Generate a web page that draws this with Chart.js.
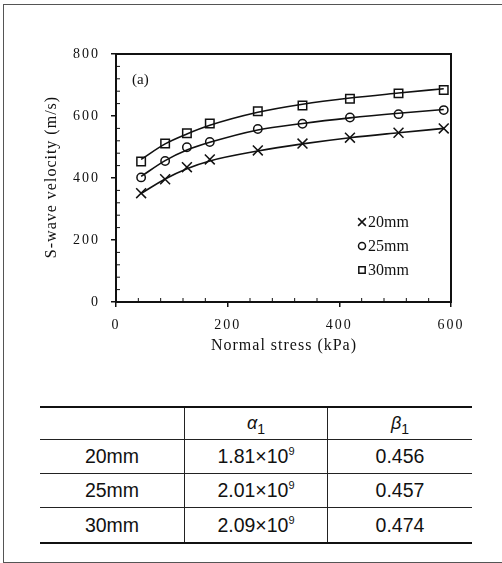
<!DOCTYPE html>
<html lang="en">
<head>
<meta charset="UTF-8">
<title>S-wave velocity vs normal stress</title>
<script src="https://cdn.jsdelivr.net/npm/chart.js@4.4.1/dist/chart.umd.min.js"></script>
<style>
    body {
        margin: 0;
        background: #fff;
        width: 502px;
        height: 563px;
        overflow: hidden;
        position: relative;
    }
    .frame {
        position: absolute;
        left: 3px;
        top: 4px;
        width: 520px;
        height: 557px;
        border: 1px solid #555;
    }
    .chart-box {
        position: absolute;
        left: 0;
        top: 0;
        width: 502px;
        height: 380px;
    }
    table {
        position: absolute;
        left: 40px;
        top: 406px;
        width: 432px;
        border-collapse: collapse;
        font-family: "Liberation Sans", Arial, sans-serif;
        font-size: 19.5px;
        color: #111;
        text-align: center;
    }
    table td {
        border: 1px solid #222;
        padding: 0;
    }
    table td:first-child { border-left: none; }
    table td:last-child { border-right: none; }
    table tr:first-child td { border-top: 2px solid #111; height: 31px; }
    table tr:last-child td { border-bottom: 2px solid #111; height: 34px; }
    table tr.r td { height: 33px; }
    .g { font-style: italic; font-size: 18px; color: #111; }
    .g sub { font-style: normal; font-size: 14px; color: #111; }
    sup { font-size: 11px; vertical-align: 8px; }
</style>
</head>
<body>
<div class="frame"></div>
<div class="chart-box"><canvas id="chart"></canvas></div>
<table>
    <tr><td style="width:144px"></td><td style="width:142px"><span class="g">α<sub>1</sub></span></td><td><span class="g">β<sub>1</sub></span></td></tr>
    <tr class="r"><td>20mm</td><td>1.81×10<sup>9</sup></td><td>0.456</td></tr>
    <tr class="r"><td>25mm</td><td>2.01×10<sup>9</sup></td><td>0.457</td></tr>
    <tr><td>30mm</td><td>2.09×10<sup>9</sup></td><td>0.474</td></tr>
</table>

<script>
// normal stress (kPa), shared by all three sizes
const stress = [45, 88, 127, 168, 254, 334, 419, 506, 587];

// measured S-wave velocity (m/s)
const vs20 = [351, 396, 435, 460, 489, 511, 530, 546, 560];
const vs25 = [402, 455, 499, 516, 558, 575, 595, 606, 619];
const vs30 = [453, 511, 544, 576, 615, 634, 656, 673, 684];

// fitted curves
const fit20 = [350, 397, 430, 455, 487, 510, 530, 546, 560];
const fit25 = [405, 456, 490, 515, 555, 576, 594, 609, 621];
const fit30 = [460, 510, 542, 570, 612, 638, 658, 674, 688];

const sizeLabels = ['20mm', '25mm', '30mm'];
const xTicks = [0, 200, 400, 600];
const yTicks = [0, 200, 400, 600, 800];

const serif = '"Liberation Serif", "Times New Roman", serif';

function pts(ys) {
    return stress.map((x, i) => ({ x: x, y: ys[i] }));
}

function fitSet(ys) {
    return {
        type: 'line',
        data: pts(ys),
        borderColor: '#111',
        borderWidth: 1.6,
        pointRadius: 0,
        cubicInterpolationMode: 'monotone',
        fill: false
    };
}

function markSet(ys, style, r) {
    return {
        type: 'scatter',
        data: pts(ys),
        pointStyle: style,
        pointRadius: r,
        borderColor: '#111',
        backgroundColor: '#fff',
        pointBorderWidth: 1.5
    };
}

// frame, minor ticks, axis titles, (a) label and legend
const decor = {
    id: 'decor',
    beforeDraw(chart) {
        chart.ctx.letterSpacing = '2px';
    },
    afterDraw(chart) {
        const ctx = chart.ctx;
        const a = chart.chartArea;
        const xs = chart.scales.x, ys = chart.scales.y;
        ctx.save();
        ctx.letterSpacing = '0px';
        ctx.strokeStyle = '#111';
        ctx.lineWidth = 2;
        ctx.strokeRect(a.left, a.top, a.right - a.left, a.bottom - a.top);

        ctx.lineWidth = 1;
        ctx.beginPath();
        for (let v = 40; v < 600; v += 40) {
            if (v % 200 === 0) continue;
            const px = xs.getPixelForValue(v);
            ctx.moveTo(px, a.bottom);
            ctx.lineTo(px, a.bottom - 4);
        }
        for (let v = 40; v < 800; v += 40) {
            if (v % 200 === 0) continue;
            const py = ys.getPixelForValue(v);
            ctx.moveTo(a.left, py);
            ctx.lineTo(a.left + 4, py);
        }
        ctx.stroke();

        ctx.fillStyle = '#111';
        ctx.textBaseline = 'middle';
        ctx.textAlign = 'center';
        ctx.letterSpacing = '1px';
        ctx.font = '16px ' + serif;
        ctx.fillText('Normal stress (kPa)', 284, 346);
        ctx.save();
        ctx.translate(52, 177);
        ctx.rotate(-Math.PI / 2);
        ctx.fillText('S-wave velocity (m/s)', 0, 0);
        ctx.restore();

        ctx.letterSpacing = '0px';
        ctx.textAlign = 'left';
        ctx.font = '15px ' + serif;
        ctx.fillText('(a)', 132, 80);

        const styles = ['crossRot', 'circle', 'rect'];
        const radii = [5.5, 3.5, 4.5];
        ctx.font = '16px ' + serif;
        sizeLabels.forEach((lab, i) => {
            const y = 222 + i * 24;
            ctx.strokeStyle = '#111';
            ctx.fillStyle = '#fff';
            ctx.lineWidth = 1.5;
            Chart.helpers.drawPoint(ctx, { pointStyle: styles[i], radius: radii[i], rotation: 0, borderWidth: 1.5 }, 362, y);
            ctx.fillStyle = '#111';
            ctx.fillText(lab, 368, y + 1);
        });
        ctx.restore();
    }
};

new Chart(document.getElementById('chart'), {
    data: {
        datasets: [
            fitSet(fit20), fitSet(fit25), fitSet(fit30),
            markSet(vs20, 'crossRot', 7),
            markSet(vs25, 'circle', 4.2),
            markSet(vs30, 'rect', 6)
        ]
    },
    options: {
        responsive: true,
        maintainAspectRatio: false,
        animation: false,
        layout: { padding: { left: 0, top: 54, right: 51, bottom: 0 } },
        plugins: {
            legend: { display: false },
            tooltip: { enabled: false }
        },
        scales: {
            x: {
                type: 'linear',
                min: 0,
                max: 600,
                afterFit(s) { s.height = 78; },
                afterBuildTicks(s) { s.ticks = xTicks.map(v => ({ value: v })); },
                ticks: {
                    color: '#111',
                    padding: 10,
                    maxRotation: 0,
                    font: { family: serif, size: 14 }
                },
                grid: { drawOnChartArea: false, tickLength: 5, color: '#111', lineWidth: 1.5 },
                border: { display: true, color: '#111', width: 2 }
            },
            y: {
                type: 'linear',
                min: 0,
                max: 800,
                afterFit(s) { s.width = 116; },
                afterBuildTicks(s) { s.ticks = yTicks.map(v => ({ value: v })); },
                ticks: {
                    color: '#111',
                    padding: 11,
                    font: { family: serif, size: 14 }
                },
                grid: { drawOnChartArea: false, tickLength: 5, color: '#111', lineWidth: 1.5 },
                border: { display: true, color: '#111', width: 2 }
            }
        }
    },
    plugins: [decor]
});
</script>
</body>
</html>
